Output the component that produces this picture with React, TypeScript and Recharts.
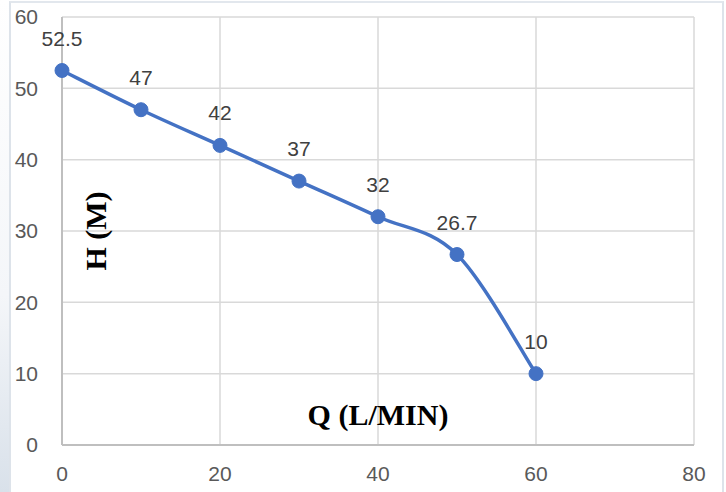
import React from 'react';
import { LineChart, Line, XAxis, YAxis, CartesianGrid, LabelList, Label } from 'recharts';

const flowQ = [0, 10, 20, 30, 40, 50, 60];
const headH = [52.5, 47, 42, 37, 32, 26.7, 10];
const xTicks = [0, 20, 40, 60, 80];
const yTicks = [0, 10, 20, 30, 40, 50, 60];

const data = flowQ.map((q, i) => ({ q, h: headH[i] }));

// Excel-like smoothing (Catmull-Rom as cubic Bezier)
function excelSmooth(context: any) {
  let pts: number[][] = [];
  return {
    areaStart() {},
    areaEnd() {},
    lineStart() { pts = []; },
    lineEnd() {
      if (!pts.length) return;
      context.moveTo(pts[0][0], pts[0][1]);
      for (let i = 0; i < pts.length - 1; i++) {
        const p0 = pts[i - 1] || pts[i];
        const p1 = pts[i];
        const p2 = pts[i + 1];
        const p3 = pts[i + 2] || p2;
        context.bezierCurveTo(
          p1[0] + (p2[0] - p0[0]) / 6, p1[1] + (p2[1] - p0[1]) / 6,
          p2[0] - (p3[0] - p1[0]) / 6, p2[1] - (p3[1] - p1[1]) / 6,
          p2[0], p2[1]
        );
      }
    },
    point(x: number, y: number) { pts.push([+x, +y]); },
  };
}

const tickStyle = { fill: '#595959', fontSize: 21, fontFamily: 'Liberation Sans, Arial, sans-serif' };
const titleFont = 'Liberation Serif, Times New Roman, serif';

export default function App() {
  return (
    <div style={{ position: 'absolute', left: 0, top: 0, width: 726, height: 492, background: '#fff', overflow: 'hidden' }}>
      <div style={{ position: 'absolute', left: 0, top: 0, width: 9, height: 492, background: 'linear-gradient(to bottom, #ffffff 0%, #f4f6f9 60%, #d9e1ea 100%)' }} />
      <div style={{ position: 'absolute', left: 9, top: 1, width: 711, height: 491, borderTop: '2px solid #e2e7ed', borderLeft: '2px solid #dde3ea', borderRight: '2px solid #dde3ea', boxSizing: 'content-box' }} />
      <div style={{ position: 'absolute', left: 0, top: 0 }}>
        <LineChart width={726} height={492} data={data} margin={{ top: 17, right: 32, left: 0, bottom: 0 }}>
          <CartesianGrid stroke="#d9d9d9" strokeWidth={1.5} />
          <XAxis
            dataKey="q"
            type="number"
            domain={[0, 80]}
            ticks={xTicks}
            height={47}
            tickLine={false}
            tickSize={0}
            tickMargin={21}
            axisLine={{ stroke: '#bfbfbf', strokeWidth: 2 }}
            tick={tickStyle}
          >
            <Label
              value="Q (L/MIN)"
              position="top"
              offset={20}
              style={{ fill: '#000', fontSize: 30, fontWeight: 'bold', fontFamily: titleFont }}
            />
          </XAxis>
          <YAxis
            type="number"
            domain={[0, 60]}
            ticks={yTicks}
            width={62}
            tickLine={false}
            tickSize={0}
            tickMargin={24}
            axisLine={{ stroke: '#bfbfbf', strokeWidth: 2 }}
            tick={tickStyle}
          >
            <Label
              content={(p: any) => {
                const vb = p.viewBox || {};
                const cx = vb.x + vb.width + 33;
                const cy = vb.y + vb.height / 2;
                return (
                  <text
                    x={cx}
                    y={cy}
                    transform={`rotate(-90 ${cx} ${cy})`}
                    textAnchor="middle"
                    dominantBaseline="central"
                    fill="#000"
                    fontSize={30}
                    fontWeight="bold"
                    fontFamily={titleFont}
                  >
                    H (M)
                  </text>
                );
              }}
            />
          </YAxis>
          <Line
            type={excelSmooth as any}
            dataKey="h"
            stroke="#4472C4"
            strokeWidth={3.5}
            dot={{ r: 7, fill: '#4472C4', stroke: '#4472C4', strokeWidth: 1 }}
            activeDot={false}
            isAnimationActive={false}
          >
            <LabelList
              dataKey="h"
              position="top"
              offset={25}
              fill="#404040"
              fontSize={21}
              fontFamily="Liberation Sans, Arial, sans-serif"
            />
          </Line>
        </LineChart>
      </div>
    </div>
  );
}
